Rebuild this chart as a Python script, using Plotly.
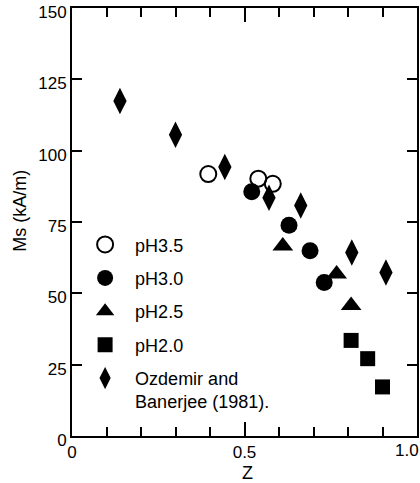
import plotly.graph_objects as go

# Data
z_ph35 = [0.395, 0.540, 0.582]
ms_ph35 = [91.8, 90.2, 88.4]

z_ph30 = [0.521, 0.629, 0.690, 0.731]
ms_ph30 = [85.6, 73.9, 64.9, 53.8]

z_ph25 = [0.611, 0.767, 0.809]
ms_ph25 = [66.6, 56.8, 45.7]

z_ph20 = [0.809, 0.857, 0.900]
ms_ph20 = [33.5, 27.1, 17.2]

z_oz = [0.139, 0.300, 0.443, 0.571, 0.663, 0.811, 0.910]
ms_oz = [117.4, 105.6, 94.3, 83.5, 80.8, 64.3, 57.3]

x_tickvals = [0, 0.5, 1.0]
x_ticktext = ["0", "0.5", ""]
x_last_label = "1.0"
y_tickvals = [0, 25, 50, 75, 100, 125, 150]

FONT = "Liberation Sans, Arial, sans-serif"
TICKCOL = "black"

fig = go.Figure()

series = [
    ("pH3.5", z_ph35, ms_ph35, dict(symbol="circle-open", size=16, color="black", line=dict(color="black", width=2))),
    ("pH3.0", z_ph30, ms_ph30, dict(symbol="circle", size=17, color="black")),
    ("pH2.5", z_ph25, ms_ph25, dict(symbol="triangle-up", size=18, color="black")),
    ("pH2.0", z_ph20, ms_ph20, dict(symbol="square", size=15, color="black")),
    ("Ozdemir and<br>Banerjee (1981).", z_oz, ms_oz, dict(symbol="diamond-tall", size=19, color="black")),
]

for i, (name, xs, ys, mk) in enumerate(series):
    fig.add_trace(go.Scatter(
        x=xs, y=ys, mode="markers", name=name, marker=mk,
        legendgroup=f"g{i}", hoverinfo="skip",
    ))

axis_common = dict(
    showline=True, linecolor="black", linewidth=2, mirror="allticks",
    ticks="inside", tickcolor=TICKCOL, tickwidth=2,
    showgrid=False, zeroline=False, ticklabeloverflow="allow", automargin=False,
    tickfont=dict(family=FONT, size=17, color="black"),
)

fig.update_xaxes(
    range=[0, 1], tickmode="array", tickvals=x_tickvals, ticktext=x_ticktext,
    ticklen=14,
    minor=dict(tickmode="linear", dtick=0.1, tick0=0, ticks="inside", ticklen=9,
               tickcolor=TICKCOL, tickwidth=2, showgrid=False),
    **axis_common,
)
fig.update_yaxes(
    range=[0, 150], tickmode="array", tickvals=y_tickvals, ticklen=10,
    ticklabelshift=4,
    **axis_common,
)

fig.add_annotation(
    text=x_last_label, xref="x", yref="paper", x=x_tickvals[-1], y=0,
    xanchor="right", yanchor="top", xshift=4, yshift=-3, showarrow=False,
    font=dict(family=FONT, size=17, color="black"),
)
fig.add_annotation(
    text="Ms (kA/m)", xref="paper", yref="paper", x=-0.151, y=0.526,
    textangle=-90, showarrow=False, xanchor="center", yanchor="middle",
    font=dict(family=FONT, size=18, color="black"),
)
fig.add_annotation(
    text="Z", xref="paper", yref="paper", x=0.51, y=-0.086,
    showarrow=False, xanchor="center", yanchor="middle",
    font=dict(family=FONT, size=18, color="black"),
)

fig.update_layout(
    width=420, height=483,
    margin=dict(l=72, r=3, t=8, b=47, autoexpand=False),
    paper_bgcolor="white", plot_bgcolor="white",
    showlegend=True,
    legend=dict(
        x=0.009, y=0.49, xanchor="left", yanchor="top",
        bgcolor="rgba(0,0,0,0)", borderwidth=0,
        font=dict(family=FONT, size=18, color="black"),
        itemwidth=50, tracegroupgap=7, valign="top",
    ),
)

fig.write_html("out.html")
